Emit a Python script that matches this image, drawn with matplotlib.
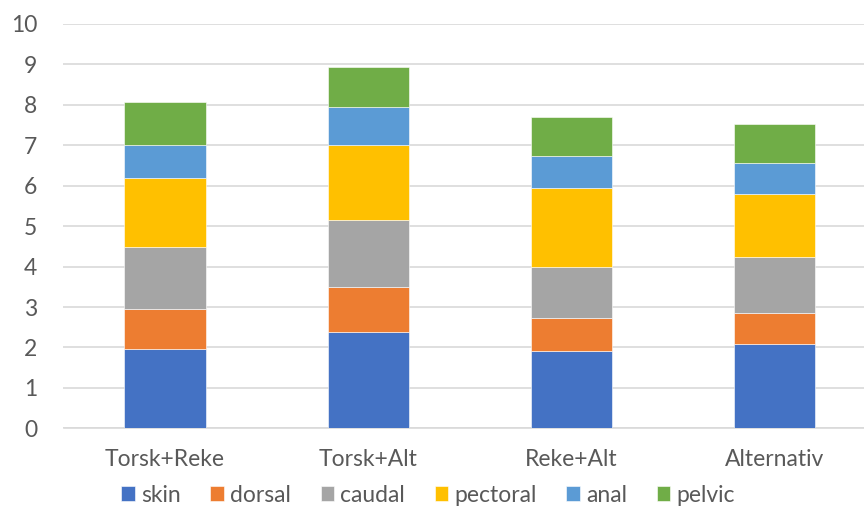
import numpy as np
import matplotlib.pyplot as plt

categories = ['Torsk+Reke', 'Torsk+Alt', 'Reke+Alt', 'Alternativ']
series_names = ['skin', 'dorsal', 'caudal', 'pectoral', 'anal', 'pelvic']
skin = [1.97, 2.37, 1.90, 2.09]
dorsal = [0.98, 1.12, 0.82, 0.76]
caudal = [1.53, 1.67, 1.28, 1.39]
pectoral = [1.72, 1.84, 1.94, 1.56]
anal = [0.80, 0.95, 0.79, 0.76]
pelvic = [1.08, 0.99, 0.97, 0.96]
yticks = list(range(0, 11))

colors = ['#4472c4', '#ed7d31', '#a5a5a5', '#ffc000', '#5b9bd5', '#70ad47']
text_color = '#595959'

plt.rcParams['font.family'] = ['Lato', 'DejaVu Sans']

fig = plt.figure(figsize=(8.64, 5.12), dpi=100)
ax = fig.add_axes([63.5 / 864, 1 - 428.3 / 512, 812.5 / 864, 404.3 / 512])

x = np.arange(len(categories))
bottom = np.zeros(len(categories))
handles = []
for name, vals, col in zip(series_names,
                           [skin, dorsal, caudal, pectoral, anal, pelvic],
                           colors):
    h = ax.bar(x, vals, width=0.4, bottom=bottom, color=col, label=name,
               edgecolor='white', linewidth=0.4, zorder=3)
    handles.append(h)
    bottom += np.array(vals)

ax.set_xlim(-0.5, len(categories) - 0.5)
ax.set_ylim(0, 10)
ax.set_yticks(yticks)
ax.set_xticks(x)
ax.set_xticklabels(categories)
ax.grid(axis='y', color='#d9d9d9', linewidth=1.2, zorder=0)
for s in ['top', 'right', 'left']:
    ax.spines[s].set_visible(False)
ax.spines['bottom'].set_color('#d9d9d9')
ax.spines['bottom'].set_linewidth(1.2)
ax.tick_params(axis='both', length=0, labelsize=16.5, colors=text_color)
ax.tick_params(axis='x', pad=15)
ax.tick_params(axis='y', pad=19)

fig.legend(handles=handles, labels=series_names, loc='center',
           bbox_to_anchor=(428 / 864, 1 - 495 / 512), ncol=6, frameon=False,
           fontsize=16.5, labelcolor=text_color, handlelength=0.6,
           handleheight=0.6, handletextpad=0.25, columnspacing=1.3)

fig.savefig('out.png', dpi=100)
